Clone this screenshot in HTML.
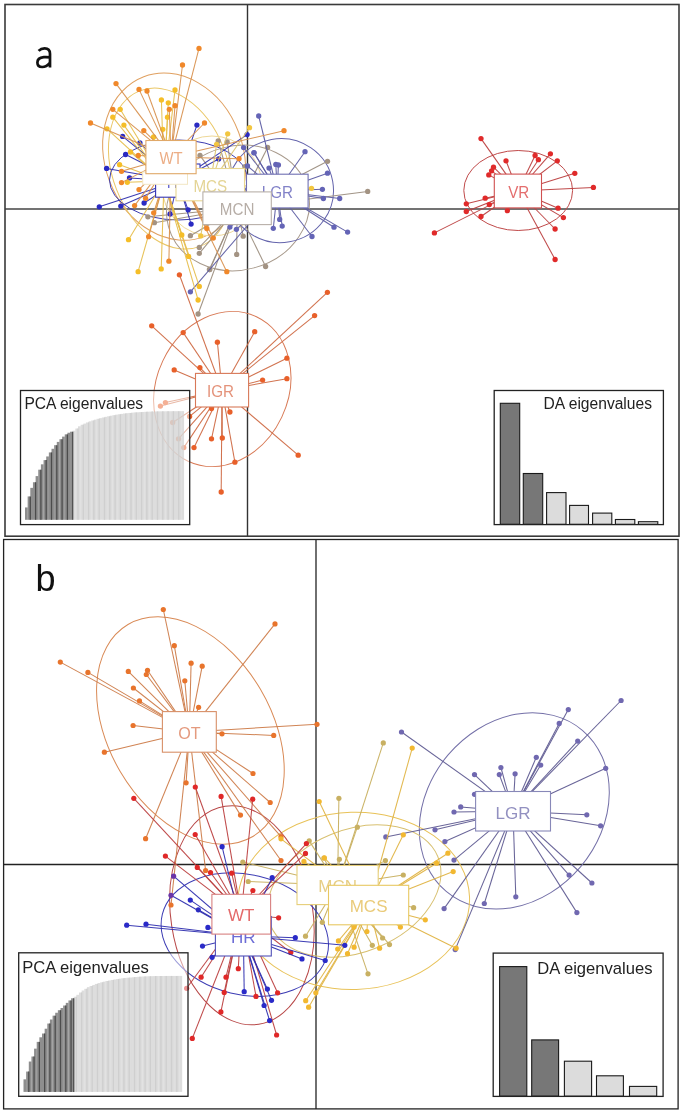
<!DOCTYPE html><html><head><meta charset="utf-8"><style>html,body{margin:0;padding:0;background:#fff;}svg{display:block;will-change:transform;filter:blur(0.3px);}text{font-family:"Liberation Sans", sans-serif;}</style></head><body>
<svg width="685" height="1114" viewBox="0 0 685 1114">
<rect width="685" height="1114" fill="#fff"/>
<g id="pa">
<line x1="247.5" y1="4.5" x2="247.5" y2="536" stroke="#333" stroke-width="1.4"/>
<line x1="5" y1="209" x2="679" y2="209" stroke="#444" stroke-width="1.7"/>
<path d="M38.6 50.9 C40.3 49.1 42.4 48.3 44.6 48.3 C48.3 48.3 50.0 50.3 50.0 53.8 L50.0 67.4 M50.0 57.4 C47.8 57.1 45.7 57.0 43.8 57.2 C39.4 57.6 37.4 59.5 37.4 62.5 C37.4 65.4 39.3 67.0 42.2 67.0 C45.3 67.0 47.9 65.2 50.0 62.6" fill="none" stroke="#111" stroke-width="2.7"/>
<ellipse cx="174.1" cy="156.7" rx="69" ry="85.5" transform="rotate(-20.8 174.1 156.7)" fill="none" stroke="#E0A060" stroke-width="1.0"/>
<ellipse cx="170" cy="168.6" rx="57.4" ry="83.4" transform="rotate(-21.2 170 168.6)" fill="none" stroke="#EAC766" stroke-width="1.0"/>
<ellipse cx="212" cy="186" rx="50" ry="50" transform="rotate(0 212 186)" fill="none" stroke="#EED898" stroke-width="1.0"/>
<ellipse cx="178.5" cy="180" rx="69" ry="40" transform="rotate(0 178.5 180)" fill="none" stroke="#3C3CB0" stroke-width="1.0"/>
<ellipse cx="238" cy="208" rx="72" ry="62" transform="rotate(-15 238 208)" fill="none" stroke="#A89A8C" stroke-width="1.0"/>
<ellipse cx="280.5" cy="190.6" rx="53" ry="52" transform="rotate(-10 280.5 190.6)" fill="none" stroke="#6464AC" stroke-width="1.0"/>
<ellipse cx="518.2" cy="190.5" rx="54.4" ry="40" transform="rotate(0 518.2 190.5)" fill="none" stroke="#C04A4A" stroke-width="1.0"/>
<ellipse cx="222.3" cy="389" rx="65.8" ry="79.9" transform="rotate(25.3 222.3 389)" fill="none" stroke="#D87A56" stroke-width="1.0"/>
<g stroke="#9C8E80" stroke-width="1.05" stroke-opacity="0.95">
<line x1="237.1" y1="208.2" x2="218.2" y2="141"/>
<line x1="237.1" y1="208.2" x2="227.2" y2="141.9"/>
<line x1="237.1" y1="208.2" x2="200" y2="155.4"/>
<line x1="237.1" y1="208.2" x2="244.9" y2="166.6"/>
<line x1="237.1" y1="208.2" x2="327.5" y2="161.3"/>
<line x1="237.1" y1="208.2" x2="367.7" y2="191.4"/>
<line x1="237.1" y1="208.2" x2="267.6" y2="147.4"/>
<line x1="237.1" y1="208.2" x2="198.1" y2="314"/>
<line x1="237.1" y1="208.2" x2="209.8" y2="269.6"/>
<line x1="237.1" y1="208.2" x2="236.7" y2="254.4"/>
<line x1="237.1" y1="208.2" x2="199.3" y2="253.3"/>
<line x1="237.1" y1="208.2" x2="199.3" y2="247.4"/>
<line x1="237.1" y1="208.2" x2="190.4" y2="235.7"/>
<line x1="237.1" y1="208.2" x2="243.2" y2="236.2"/>
<line x1="237.1" y1="208.2" x2="147.9" y2="216.8"/>
<line x1="237.1" y1="208.2" x2="154.4" y2="222.7"/>
<line x1="237.1" y1="208.2" x2="265.6" y2="266.5"/>
<line x1="237.1" y1="208.2" x2="209.4" y2="269.5"/>
</g>
<g fill="#A39383">
<circle cx="218.2" cy="141" r="2.65"/>
<circle cx="227.2" cy="141.9" r="2.65"/>
<circle cx="200" cy="155.4" r="2.65"/>
<circle cx="244.9" cy="166.6" r="2.65"/>
<circle cx="327.5" cy="161.3" r="2.65"/>
<circle cx="367.7" cy="191.4" r="2.65"/>
<circle cx="267.6" cy="147.4" r="2.65"/>
<circle cx="198.1" cy="314" r="2.65"/>
<circle cx="209.8" cy="269.6" r="2.65"/>
<circle cx="236.7" cy="254.4" r="2.65"/>
<circle cx="199.3" cy="253.3" r="2.65"/>
<circle cx="199.3" cy="247.4" r="2.65"/>
<circle cx="190.4" cy="235.7" r="2.65"/>
<circle cx="243.2" cy="236.2" r="2.65"/>
<circle cx="147.9" cy="216.8" r="2.65"/>
<circle cx="154.4" cy="222.7" r="2.65"/>
<circle cx="265.6" cy="266.5" r="2.65"/>
<circle cx="209.4" cy="269.5" r="2.65"/>
</g>
<g stroke="#5C5CA2" stroke-width="1.05" stroke-opacity="0.95">
<line x1="277.3" y1="191" x2="243.6" y2="147.6"/>
<line x1="277.3" y1="191" x2="254.1" y2="152.8"/>
<line x1="277.3" y1="191" x2="247.5" y2="166"/>
<line x1="277.3" y1="191" x2="258.7" y2="116"/>
<line x1="277.3" y1="191" x2="305" y2="151.7"/>
<line x1="277.3" y1="191" x2="327.5" y2="173.2"/>
<line x1="277.3" y1="191" x2="322.4" y2="189.3"/>
<line x1="277.3" y1="191" x2="339.7" y2="198.5"/>
<line x1="277.3" y1="191" x2="269" y2="168.1"/>
<line x1="277.3" y1="191" x2="275.8" y2="164.4"/>
<line x1="277.3" y1="191" x2="278.4" y2="165"/>
<line x1="277.3" y1="191" x2="253.9" y2="152.7"/>
<line x1="277.3" y1="191" x2="273.3" y2="228.3"/>
<line x1="277.3" y1="191" x2="282.2" y2="226.1"/>
<line x1="277.3" y1="191" x2="279.7" y2="219.4"/>
<line x1="277.3" y1="191" x2="312" y2="236.5"/>
<line x1="277.3" y1="191" x2="334" y2="227.2"/>
<line x1="277.3" y1="191" x2="347.6" y2="232.1"/>
<line x1="277.3" y1="191" x2="323.4" y2="198.5"/>
<line x1="277.3" y1="191" x2="229.9" y2="227.1"/>
<line x1="277.3" y1="191" x2="236.4" y2="229.3"/>
<line x1="277.3" y1="191" x2="190.4" y2="291.8"/>
</g>
<g fill="#6464B6">
<circle cx="243.6" cy="147.6" r="2.65"/>
<circle cx="254.1" cy="152.8" r="2.65"/>
<circle cx="247.5" cy="166" r="2.65"/>
<circle cx="258.7" cy="116" r="2.65"/>
<circle cx="305" cy="151.7" r="2.65"/>
<circle cx="327.5" cy="173.2" r="2.65"/>
<circle cx="322.4" cy="189.3" r="2.65"/>
<circle cx="339.7" cy="198.5" r="2.65"/>
<circle cx="269" cy="168.1" r="2.65"/>
<circle cx="275.8" cy="164.4" r="2.65"/>
<circle cx="278.4" cy="165" r="2.65"/>
<circle cx="253.9" cy="152.7" r="2.65"/>
<circle cx="273.3" cy="228.3" r="2.65"/>
<circle cx="282.2" cy="226.1" r="2.65"/>
<circle cx="279.7" cy="219.4" r="2.65"/>
<circle cx="312" cy="236.5" r="2.65"/>
<circle cx="334" cy="227.2" r="2.65"/>
<circle cx="347.6" cy="232.1" r="2.65"/>
<circle cx="323.4" cy="198.5" r="2.65"/>
<circle cx="229.9" cy="227.1" r="2.65"/>
<circle cx="236.4" cy="229.3" r="2.65"/>
<circle cx="190.4" cy="291.8" r="2.65"/>
</g>
<g stroke="#3232AE" stroke-width="1.05" stroke-opacity="0.95">
<line x1="178" y1="181" x2="196.9" y2="125.1"/>
<line x1="178" y1="181" x2="122.6" y2="136.4"/>
<line x1="178" y1="181" x2="139.9" y2="143"/>
<line x1="178" y1="181" x2="247.1" y2="134.6"/>
<line x1="178" y1="181" x2="125.6" y2="154.5"/>
<line x1="178" y1="181" x2="106.6" y2="168.4"/>
<line x1="178" y1="181" x2="129.5" y2="177.9"/>
<line x1="178" y1="181" x2="99.3" y2="206.8"/>
<line x1="178" y1="181" x2="120.8" y2="206.1"/>
<line x1="178" y1="181" x2="144.1" y2="203"/>
<line x1="178" y1="181" x2="218.6" y2="159"/>
<line x1="178" y1="181" x2="191.1" y2="224.1"/>
<line x1="178" y1="181" x2="188.1" y2="209.8"/>
<line x1="178" y1="181" x2="170.1" y2="214"/>
</g>
<g fill="#2A2AC2">
<circle cx="196.9" cy="125.1" r="2.65"/>
<circle cx="122.6" cy="136.4" r="2.65"/>
<circle cx="139.9" cy="143" r="2.65"/>
<circle cx="247.1" cy="134.6" r="2.65"/>
<circle cx="125.6" cy="154.5" r="2.65"/>
<circle cx="106.6" cy="168.4" r="2.65"/>
<circle cx="129.5" cy="177.9" r="2.65"/>
<circle cx="99.3" cy="206.8" r="2.65"/>
<circle cx="120.8" cy="206.1" r="2.65"/>
<circle cx="144.1" cy="203" r="2.65"/>
<circle cx="218.6" cy="159" r="2.65"/>
<circle cx="191.1" cy="224.1" r="2.65"/>
<circle cx="188.1" cy="209.8" r="2.65"/>
<circle cx="170.1" cy="214" r="2.65"/>
</g>
<g stroke="#DCC470" stroke-width="1.05" stroke-opacity="0.95">
<line x1="210.2" y1="184.6" x2="249.5" y2="127.7"/>
<line x1="210.2" y1="184.6" x2="227.7" y2="133.8"/>
<line x1="210.2" y1="184.6" x2="216.6" y2="144.3"/>
<line x1="210.2" y1="184.6" x2="311.5" y2="188.3"/>
<line x1="210.2" y1="184.6" x2="200.7" y2="235.9"/>
</g>
<g fill="#F2C640">
<circle cx="249.5" cy="127.7" r="2.65"/>
<circle cx="227.7" cy="133.8" r="2.65"/>
<circle cx="216.6" cy="144.3" r="2.65"/>
<circle cx="311.5" cy="188.3" r="2.65"/>
<circle cx="200.7" cy="235.9" r="2.65"/>
</g>
<g stroke="#E6BE4C" stroke-width="1.05" stroke-opacity="0.95">
<line x1="164" y1="181" x2="175" y2="90"/>
<line x1="164" y1="181" x2="161.4" y2="99.9"/>
<line x1="164" y1="181" x2="168.3" y2="102.8"/>
<line x1="164" y1="181" x2="120.2" y2="109.3"/>
<line x1="164" y1="181" x2="112.8" y2="117.2"/>
<line x1="164" y1="181" x2="167.5" y2="117.2"/>
<line x1="164" y1="181" x2="123.9" y2="125.1"/>
<line x1="164" y1="181" x2="107" y2="128.8"/>
<line x1="164" y1="181" x2="162.8" y2="129.3"/>
<line x1="164" y1="181" x2="130.5" y2="152"/>
<line x1="164" y1="181" x2="119.6" y2="164.7"/>
<line x1="164" y1="181" x2="127.3" y2="182.3"/>
<line x1="164" y1="181" x2="153.6" y2="137"/>
<line x1="164" y1="181" x2="128.5" y2="239.7"/>
<line x1="164" y1="181" x2="138.1" y2="271.7"/>
<line x1="164" y1="181" x2="161.2" y2="268.9"/>
<line x1="164" y1="181" x2="199.3" y2="286.4"/>
<line x1="164" y1="181" x2="198.1" y2="300"/>
<line x1="164" y1="181" x2="181.8" y2="235"/>
<line x1="164" y1="181" x2="188.6" y2="256.4"/>
</g>
<g fill="#F5BE28">
<circle cx="175" cy="90" r="2.65"/>
<circle cx="161.4" cy="99.9" r="2.65"/>
<circle cx="168.3" cy="102.8" r="2.65"/>
<circle cx="120.2" cy="109.3" r="2.65"/>
<circle cx="112.8" cy="117.2" r="2.65"/>
<circle cx="167.5" cy="117.2" r="2.65"/>
<circle cx="123.9" cy="125.1" r="2.65"/>
<circle cx="107" cy="128.8" r="2.65"/>
<circle cx="162.8" cy="129.3" r="2.65"/>
<circle cx="130.5" cy="152" r="2.65"/>
<circle cx="119.6" cy="164.7" r="2.65"/>
<circle cx="127.3" cy="182.3" r="2.65"/>
<circle cx="153.6" cy="137" r="2.65"/>
<circle cx="128.5" cy="239.7" r="2.65"/>
<circle cx="138.1" cy="271.7" r="2.65"/>
<circle cx="161.2" cy="268.9" r="2.65"/>
<circle cx="199.3" cy="286.4" r="2.65"/>
<circle cx="198.1" cy="300" r="2.65"/>
<circle cx="181.8" cy="235" r="2.65"/>
<circle cx="188.6" cy="256.4" r="2.65"/>
</g>
<g stroke="#D8914F" stroke-width="1.05" stroke-opacity="0.95">
<line x1="171" y1="157.1" x2="199" y2="48.4"/>
<line x1="171" y1="157.1" x2="182.5" y2="65"/>
<line x1="171" y1="157.1" x2="116" y2="83.6"/>
<line x1="171" y1="157.1" x2="139" y2="89.4"/>
<line x1="171" y1="157.1" x2="147" y2="91"/>
<line x1="171" y1="157.1" x2="112.8" y2="109.3"/>
<line x1="171" y1="157.1" x2="90.5" y2="123"/>
<line x1="171" y1="157.1" x2="143.8" y2="130.6"/>
<line x1="171" y1="157.1" x2="169.3" y2="109.3"/>
<line x1="171" y1="157.1" x2="175" y2="105.7"/>
<line x1="171" y1="157.1" x2="204.5" y2="123"/>
<line x1="171" y1="157.1" x2="138.3" y2="155.5"/>
<line x1="171" y1="157.1" x2="121.5" y2="171.3"/>
<line x1="171" y1="157.1" x2="121.5" y2="182.6"/>
<line x1="171" y1="157.1" x2="139" y2="189.6"/>
<line x1="171" y1="157.1" x2="145.6" y2="198.3"/>
<line x1="171" y1="157.1" x2="134.6" y2="205.6"/>
<line x1="171" y1="157.1" x2="239" y2="158.7"/>
<line x1="171" y1="157.1" x2="284" y2="130.7"/>
<line x1="171" y1="157.1" x2="148.6" y2="236.7"/>
<line x1="171" y1="157.1" x2="168.9" y2="261.2"/>
<line x1="171" y1="157.1" x2="226.8" y2="271.7"/>
<line x1="171" y1="157.1" x2="213.3" y2="238.1"/>
<line x1="171" y1="157.1" x2="153.7" y2="212.8"/>
<line x1="171" y1="157.1" x2="206.8" y2="228.5"/>
</g>
<g fill="#F0882A">
<circle cx="199" cy="48.4" r="2.65"/>
<circle cx="182.5" cy="65" r="2.65"/>
<circle cx="116" cy="83.6" r="2.65"/>
<circle cx="139" cy="89.4" r="2.65"/>
<circle cx="147" cy="91" r="2.65"/>
<circle cx="112.8" cy="109.3" r="2.65"/>
<circle cx="90.5" cy="123" r="2.65"/>
<circle cx="143.8" cy="130.6" r="2.65"/>
<circle cx="169.3" cy="109.3" r="2.65"/>
<circle cx="175" cy="105.7" r="2.65"/>
<circle cx="204.5" cy="123" r="2.65"/>
<circle cx="138.3" cy="155.5" r="2.65"/>
<circle cx="121.5" cy="171.3" r="2.65"/>
<circle cx="121.5" cy="182.6" r="2.65"/>
<circle cx="139" cy="189.6" r="2.65"/>
<circle cx="145.6" cy="198.3" r="2.65"/>
<circle cx="134.6" cy="205.6" r="2.65"/>
<circle cx="239" cy="158.7" r="2.65"/>
<circle cx="284" cy="130.7" r="2.65"/>
<circle cx="148.6" cy="236.7" r="2.65"/>
<circle cx="168.9" cy="261.2" r="2.65"/>
<circle cx="226.8" cy="271.7" r="2.65"/>
<circle cx="213.3" cy="238.1" r="2.65"/>
<circle cx="153.7" cy="212.8" r="2.65"/>
<circle cx="206.8" cy="228.5" r="2.65"/>
</g>
<g stroke="#BC4040" stroke-width="1.05" stroke-opacity="0.95">
<line x1="517.9" y1="191" x2="481.0" y2="138.6"/>
<line x1="517.9" y1="191" x2="506.0" y2="160.8"/>
<line x1="517.9" y1="191" x2="535.1" y2="155.5"/>
<line x1="517.9" y1="191" x2="538.4" y2="159.7"/>
<line x1="517.9" y1="191" x2="550.4" y2="153.8"/>
<line x1="517.9" y1="191" x2="557.3" y2="160.8"/>
<line x1="517.9" y1="191" x2="574.8" y2="173.3"/>
<line x1="517.9" y1="191" x2="593.4" y2="187.4"/>
<line x1="517.9" y1="191" x2="493.5" y2="167.2"/>
<line x1="517.9" y1="191" x2="491.6" y2="170.8"/>
<line x1="517.9" y1="191" x2="488.8" y2="174.9"/>
<line x1="517.9" y1="191" x2="485.2" y2="198.2"/>
<line x1="517.9" y1="191" x2="466.3" y2="203.8"/>
<line x1="517.9" y1="191" x2="489.3" y2="204.6"/>
<line x1="517.9" y1="191" x2="466.3" y2="211.5"/>
<line x1="517.9" y1="191" x2="481.0" y2="216.5"/>
<line x1="517.9" y1="191" x2="507.4" y2="210.7"/>
<line x1="517.9" y1="191" x2="434.4" y2="232.9"/>
<line x1="517.9" y1="191" x2="558.1" y2="208.2"/>
<line x1="517.9" y1="191" x2="563.4" y2="217.6"/>
<line x1="517.9" y1="191" x2="555.1" y2="229.0"/>
<line x1="517.9" y1="191" x2="555.1" y2="259.5"/>
</g>
<g fill="#E02A2A">
<circle cx="481.0" cy="138.6" r="2.65"/>
<circle cx="506.0" cy="160.8" r="2.65"/>
<circle cx="535.1" cy="155.5" r="2.65"/>
<circle cx="538.4" cy="159.7" r="2.65"/>
<circle cx="550.4" cy="153.8" r="2.65"/>
<circle cx="557.3" cy="160.8" r="2.65"/>
<circle cx="574.8" cy="173.3" r="2.65"/>
<circle cx="593.4" cy="187.4" r="2.65"/>
<circle cx="493.5" cy="167.2" r="2.65"/>
<circle cx="491.6" cy="170.8" r="2.65"/>
<circle cx="488.8" cy="174.9" r="2.65"/>
<circle cx="485.2" cy="198.2" r="2.65"/>
<circle cx="466.3" cy="203.8" r="2.65"/>
<circle cx="489.3" cy="204.6" r="2.65"/>
<circle cx="466.3" cy="211.5" r="2.65"/>
<circle cx="481.0" cy="216.5" r="2.65"/>
<circle cx="507.4" cy="210.7" r="2.65"/>
<circle cx="434.4" cy="232.9" r="2.65"/>
<circle cx="558.1" cy="208.2" r="2.65"/>
<circle cx="563.4" cy="217.6" r="2.65"/>
<circle cx="555.1" cy="229.0" r="2.65"/>
<circle cx="555.1" cy="259.5" r="2.65"/>
</g>
<g stroke="#CF6A44" stroke-width="1.05" stroke-opacity="0.95">
<line x1="222" y1="390.2" x2="327.4" y2="292.3"/>
<line x1="222" y1="390.2" x2="314.6" y2="315.6"/>
<line x1="222" y1="390.2" x2="151.7" y2="325.8"/>
<line x1="222" y1="390.2" x2="183.2" y2="332.6"/>
<line x1="222" y1="390.2" x2="254.7" y2="331.7"/>
<line x1="222" y1="390.2" x2="217.4" y2="342.2"/>
<line x1="222" y1="390.2" x2="199.9" y2="367.6"/>
<line x1="222" y1="390.2" x2="174.2" y2="369.9"/>
<line x1="222" y1="390.2" x2="286.9" y2="358.2"/>
<line x1="222" y1="390.2" x2="286.9" y2="378.7"/>
<line x1="222" y1="390.2" x2="262.6" y2="380.1"/>
<line x1="222" y1="390.2" x2="160.4" y2="406.1"/>
<line x1="222" y1="390.2" x2="165.4" y2="402.6"/>
<line x1="222" y1="390.2" x2="189.6" y2="416.4"/>
<line x1="222" y1="390.2" x2="172.7" y2="422.5"/>
<line x1="222" y1="390.2" x2="178.5" y2="438.8"/>
<line x1="222" y1="390.2" x2="183.8" y2="447.6"/>
<line x1="222" y1="390.2" x2="194.0" y2="447.6"/>
<line x1="222" y1="390.2" x2="211.5" y2="438.8"/>
<line x1="222" y1="390.2" x2="222.3" y2="438.0"/>
<line x1="222" y1="390.2" x2="211.5" y2="408.5"/>
<line x1="222" y1="390.2" x2="229.9" y2="412.0"/>
<line x1="222" y1="390.2" x2="234.9" y2="462.2"/>
<line x1="222" y1="390.2" x2="298.2" y2="455.2"/>
<line x1="222" y1="390.2" x2="221.2" y2="492.0"/>
<line x1="222" y1="390.2" x2="179.4" y2="274.8"/>
</g>
<g fill="#E8602A">
<circle cx="327.4" cy="292.3" r="2.65"/>
<circle cx="314.6" cy="315.6" r="2.65"/>
<circle cx="151.7" cy="325.8" r="2.65"/>
<circle cx="183.2" cy="332.6" r="2.65"/>
<circle cx="254.7" cy="331.7" r="2.65"/>
<circle cx="217.4" cy="342.2" r="2.65"/>
<circle cx="199.9" cy="367.6" r="2.65"/>
<circle cx="174.2" cy="369.9" r="2.65"/>
<circle cx="286.9" cy="358.2" r="2.65"/>
<circle cx="286.9" cy="378.7" r="2.65"/>
<circle cx="262.6" cy="380.1" r="2.65"/>
<circle cx="160.4" cy="406.1" r="2.65"/>
<circle cx="165.4" cy="402.6" r="2.65"/>
<circle cx="189.6" cy="416.4" r="2.65"/>
<circle cx="172.7" cy="422.5" r="2.65"/>
<circle cx="178.5" cy="438.8" r="2.65"/>
<circle cx="183.8" cy="447.6" r="2.65"/>
<circle cx="194.0" cy="447.6" r="2.65"/>
<circle cx="211.5" cy="438.8" r="2.65"/>
<circle cx="222.3" cy="438.0" r="2.65"/>
<circle cx="211.5" cy="408.5" r="2.65"/>
<circle cx="229.9" cy="412.0" r="2.65"/>
<circle cx="234.9" cy="462.2" r="2.65"/>
<circle cx="298.2" cy="455.2" r="2.65"/>
<circle cx="221.2" cy="492.0" r="2.65"/>
<circle cx="179.4" cy="274.8" r="2.65"/>
</g>
<rect x="155.6" y="164" width="44.400000000000006" height="33.19999999999999" fill="#fff" stroke="#3434B4" stroke-width="1.1"/><text transform="translate(177.80 187.71) scale(0.92 1)" x="0" y="0" font-size="16.5" fill="#6A6AD0" text-anchor="middle">HR</text>
<rect x="246.5" y="174.2" width="61.60000000000002" height="33.70000000000002" fill="#fff" stroke="#7070B2" stroke-width="1.1"/><text transform="translate(277.30 198.16) scale(0.92 1)" x="0" y="0" font-size="16.5" fill="#8282C8" text-anchor="middle">LGR</text>
<rect x="176" y="168.5" width="68.5" height="32.30000000000001" fill="#fff" stroke="#E8D690" stroke-width="1.1"/><text transform="translate(210.25 191.76) scale(0.92 1)" x="0" y="0" font-size="16.5" fill="#E4D494" text-anchor="middle">MCS</text>
<rect x="142.7" y="172" width="44.8" height="12.3" fill="#fff" stroke="#F2E6C4" stroke-width="1"/>
<rect x="145.9" y="140.5" width="50.19999999999999" height="33.19999999999999" fill="#fff" stroke="#E0A868" stroke-width="1.1"/><text transform="translate(171.00 164.21) scale(0.9 1)" x="0" y="0" font-size="16.5" fill="#ECAD85" text-anchor="middle">WT</text>
<rect x="202.9" y="191.9" width="68.4" height="32.69999999999999" fill="#fff" stroke="#B8B0A8" stroke-width="1.1"/><text transform="translate(237.10 215.36) scale(0.92 1)" x="0" y="0" font-size="16.5" fill="#B6ADA6" text-anchor="middle">MCN</text>
<rect x="494.3" y="174.1" width="47.19999999999999" height="33.80000000000001" fill="#fff" stroke="#D05050" stroke-width="1.1"/><text transform="translate(518.70 198.11) scale(0.92 1)" x="0" y="0" font-size="16.5" fill="#E46E6E" text-anchor="middle">VR</text>
<rect x="195.5" y="373.4" width="53.099999999999994" height="33.60000000000002" fill="#fff" stroke="#D87858" stroke-width="1.1"/><text transform="translate(220.45 397.31) scale(0.92 1)" x="0" y="0" font-size="16.5" fill="#E4927A" text-anchor="middle">IGR</text>
<rect x="20.5" y="390.5" width="169.2" height="134.10000000000002" fill="#fff" fill-opacity="0.5" stroke="none"/>
<rect x="25.00" y="507.44" width="2.70" height="12.36" fill="#848484" fill-opacity="0.92"/>
<rect x="27.65" y="496.42" width="2.70" height="23.38" fill="#848484" fill-opacity="0.92"/>
<rect x="30.30" y="487.86" width="2.70" height="31.94" fill="#848484" fill-opacity="0.92"/>
<rect x="32.95" y="482.23" width="2.70" height="37.57" fill="#848484" fill-opacity="0.92"/>
<rect x="35.60" y="476.09" width="2.70" height="43.71" fill="#848484" fill-opacity="0.92"/>
<rect x="38.25" y="469.69" width="2.70" height="50.11" fill="#848484" fill-opacity="0.92"/>
<rect x="40.90" y="464.33" width="2.70" height="55.46" fill="#848484" fill-opacity="0.92"/>
<rect x="43.55" y="460.11" width="2.70" height="59.69" fill="#848484" fill-opacity="0.92"/>
<rect x="46.20" y="456.45" width="2.70" height="63.35" fill="#848484" fill-opacity="0.92"/>
<rect x="48.85" y="452.43" width="2.70" height="67.37" fill="#848484" fill-opacity="0.92"/>
<rect x="51.50" y="448.78" width="2.70" height="71.02" fill="#848484" fill-opacity="0.92"/>
<rect x="54.15" y="445.16" width="2.70" height="74.64" fill="#848484" fill-opacity="0.92"/>
<rect x="56.80" y="441.91" width="2.70" height="77.89" fill="#848484" fill-opacity="0.92"/>
<rect x="59.45" y="439.22" width="2.70" height="80.58" fill="#848484" fill-opacity="0.92"/>
<rect x="62.10" y="436.62" width="2.70" height="83.18" fill="#848484" fill-opacity="0.92"/>
<rect x="64.75" y="434.36" width="2.70" height="85.44" fill="#848484" fill-opacity="0.92"/>
<rect x="67.40" y="432.73" width="2.70" height="87.07" fill="#848484" fill-opacity="0.92"/>
<rect x="70.05" y="431.69" width="2.70" height="88.11" fill="#848484" fill-opacity="0.92"/>
<rect x="72.70" y="430.71" width="2.70" height="89.09" fill="#D0D0D0" fill-opacity="0.72"/>
<rect x="75.35" y="428.51" width="2.70" height="91.29" fill="#D0D0D0" fill-opacity="0.72"/>
<rect x="78.00" y="426.30" width="2.70" height="93.50" fill="#D0D0D0" fill-opacity="0.72"/>
<rect x="80.65" y="424.76" width="2.70" height="95.04" fill="#D0D0D0" fill-opacity="0.72"/>
<rect x="83.30" y="423.60" width="2.70" height="96.20" fill="#D0D0D0" fill-opacity="0.72"/>
<rect x="85.95" y="422.43" width="2.70" height="97.37" fill="#D0D0D0" fill-opacity="0.72"/>
<rect x="88.60" y="421.33" width="2.70" height="98.47" fill="#D0D0D0" fill-opacity="0.72"/>
<rect x="91.25" y="420.50" width="2.70" height="99.30" fill="#D0D0D0" fill-opacity="0.72"/>
<rect x="93.90" y="419.66" width="2.70" height="100.14" fill="#D0D0D0" fill-opacity="0.72"/>
<rect x="96.55" y="418.83" width="2.70" height="100.97" fill="#D0D0D0" fill-opacity="0.72"/>
<rect x="99.20" y="418.13" width="2.70" height="101.67" fill="#D0D0D0" fill-opacity="0.72"/>
<rect x="101.85" y="417.49" width="2.70" height="102.31" fill="#D0D0D0" fill-opacity="0.72"/>
<rect x="104.50" y="416.85" width="2.70" height="102.95" fill="#D0D0D0" fill-opacity="0.72"/>
<rect x="107.15" y="416.25" width="2.70" height="103.55" fill="#D0D0D0" fill-opacity="0.72"/>
<rect x="109.80" y="415.72" width="2.70" height="104.08" fill="#D0D0D0" fill-opacity="0.72"/>
<rect x="112.45" y="415.20" width="2.70" height="104.60" fill="#D0D0D0" fill-opacity="0.72"/>
<rect x="115.10" y="414.67" width="2.70" height="105.13" fill="#D0D0D0" fill-opacity="0.72"/>
<rect x="117.75" y="414.27" width="2.70" height="105.53" fill="#D0D0D0" fill-opacity="0.72"/>
<rect x="120.40" y="413.90" width="2.70" height="105.90" fill="#D0D0D0" fill-opacity="0.72"/>
<rect x="123.05" y="413.52" width="2.70" height="106.28" fill="#D0D0D0" fill-opacity="0.72"/>
<rect x="125.70" y="413.19" width="2.70" height="106.61" fill="#D0D0D0" fill-opacity="0.72"/>
<rect x="128.35" y="412.93" width="2.70" height="106.87" fill="#D0D0D0" fill-opacity="0.72"/>
<rect x="131.00" y="412.67" width="2.70" height="107.13" fill="#D0D0D0" fill-opacity="0.72"/>
<rect x="133.65" y="412.41" width="2.70" height="107.39" fill="#D0D0D0" fill-opacity="0.72"/>
<rect x="136.30" y="412.26" width="2.70" height="107.54" fill="#D0D0D0" fill-opacity="0.72"/>
<rect x="138.95" y="412.12" width="2.70" height="107.68" fill="#D0D0D0" fill-opacity="0.72"/>
<rect x="141.60" y="411.97" width="2.70" height="107.83" fill="#D0D0D0" fill-opacity="0.72"/>
<rect x="144.25" y="411.84" width="2.70" height="107.96" fill="#D0D0D0" fill-opacity="0.72"/>
<rect x="146.90" y="411.72" width="2.70" height="108.08" fill="#D0D0D0" fill-opacity="0.72"/>
<rect x="149.55" y="411.61" width="2.70" height="108.19" fill="#D0D0D0" fill-opacity="0.72"/>
<rect x="152.20" y="411.49" width="2.70" height="108.31" fill="#D0D0D0" fill-opacity="0.72"/>
<rect x="154.85" y="411.44" width="2.70" height="108.36" fill="#D0D0D0" fill-opacity="0.72"/>
<rect x="157.50" y="411.38" width="2.70" height="108.42" fill="#D0D0D0" fill-opacity="0.72"/>
<rect x="160.15" y="411.32" width="2.70" height="108.48" fill="#D0D0D0" fill-opacity="0.72"/>
<rect x="162.80" y="411.28" width="2.70" height="108.52" fill="#D0D0D0" fill-opacity="0.72"/>
<rect x="165.45" y="411.26" width="2.70" height="108.54" fill="#D0D0D0" fill-opacity="0.72"/>
<rect x="168.10" y="411.24" width="2.70" height="108.56" fill="#D0D0D0" fill-opacity="0.72"/>
<rect x="170.75" y="411.22" width="2.70" height="108.58" fill="#D0D0D0" fill-opacity="0.72"/>
<rect x="173.40" y="411.19" width="2.70" height="108.61" fill="#D0D0D0" fill-opacity="0.72"/>
<rect x="176.05" y="411.17" width="2.70" height="108.63" fill="#D0D0D0" fill-opacity="0.72"/>
<rect x="178.70" y="411.15" width="2.70" height="108.65" fill="#D0D0D0" fill-opacity="0.72"/>
<rect x="181.35" y="411.12" width="2.70" height="108.68" fill="#D0D0D0" fill-opacity="0.72"/>
<line x1="30.30" y1="496.42" x2="30.30" y2="519.8" stroke="#444444" stroke-width="1.3" stroke-opacity="0.92"/>
<line x1="35.60" y1="482.23" x2="35.60" y2="519.8" stroke="#444444" stroke-width="1.3" stroke-opacity="0.92"/>
<line x1="40.90" y1="469.69" x2="40.90" y2="519.8" stroke="#444444" stroke-width="1.3" stroke-opacity="0.92"/>
<line x1="46.20" y1="460.11" x2="46.20" y2="519.8" stroke="#444444" stroke-width="1.3" stroke-opacity="0.92"/>
<line x1="51.50" y1="452.43" x2="51.50" y2="519.8" stroke="#444444" stroke-width="1.3" stroke-opacity="0.92"/>
<line x1="56.80" y1="445.16" x2="56.80" y2="519.8" stroke="#444444" stroke-width="1.3" stroke-opacity="0.92"/>
<line x1="62.10" y1="439.22" x2="62.10" y2="519.8" stroke="#444444" stroke-width="1.3" stroke-opacity="0.92"/>
<line x1="67.40" y1="434.36" x2="67.40" y2="519.8" stroke="#444444" stroke-width="1.3" stroke-opacity="0.92"/>
<line x1="72.70" y1="431.69" x2="72.70" y2="519.8" stroke="#444444" stroke-width="1.3" stroke-opacity="0.92"/>
<line x1="78.00" y1="428.51" x2="78.00" y2="519.8" stroke="#CDCDCD" stroke-width="1.3" stroke-opacity="0.92"/>
<line x1="83.30" y1="424.76" x2="83.30" y2="519.8" stroke="#CDCDCD" stroke-width="1.3" stroke-opacity="0.92"/>
<line x1="88.60" y1="422.43" x2="88.60" y2="519.8" stroke="#CDCDCD" stroke-width="1.3" stroke-opacity="0.92"/>
<line x1="93.90" y1="420.50" x2="93.90" y2="519.8" stroke="#CDCDCD" stroke-width="1.3" stroke-opacity="0.92"/>
<line x1="99.20" y1="418.83" x2="99.20" y2="519.8" stroke="#CDCDCD" stroke-width="1.3" stroke-opacity="0.92"/>
<line x1="104.50" y1="417.49" x2="104.50" y2="519.8" stroke="#CDCDCD" stroke-width="1.3" stroke-opacity="0.92"/>
<line x1="109.80" y1="416.25" x2="109.80" y2="519.8" stroke="#CDCDCD" stroke-width="1.3" stroke-opacity="0.92"/>
<line x1="115.10" y1="415.20" x2="115.10" y2="519.8" stroke="#CDCDCD" stroke-width="1.3" stroke-opacity="0.92"/>
<line x1="120.40" y1="414.27" x2="120.40" y2="519.8" stroke="#CDCDCD" stroke-width="1.3" stroke-opacity="0.92"/>
<line x1="125.70" y1="413.52" x2="125.70" y2="519.8" stroke="#CDCDCD" stroke-width="1.3" stroke-opacity="0.92"/>
<line x1="131.00" y1="412.93" x2="131.00" y2="519.8" stroke="#CDCDCD" stroke-width="1.3" stroke-opacity="0.92"/>
<line x1="136.30" y1="412.41" x2="136.30" y2="519.8" stroke="#CDCDCD" stroke-width="1.3" stroke-opacity="0.92"/>
<line x1="141.60" y1="412.12" x2="141.60" y2="519.8" stroke="#CDCDCD" stroke-width="1.3" stroke-opacity="0.92"/>
<line x1="146.90" y1="411.84" x2="146.90" y2="519.8" stroke="#CDCDCD" stroke-width="1.3" stroke-opacity="0.92"/>
<line x1="152.20" y1="411.61" x2="152.20" y2="519.8" stroke="#CDCDCD" stroke-width="1.3" stroke-opacity="0.92"/>
<line x1="157.50" y1="411.44" x2="157.50" y2="519.8" stroke="#CDCDCD" stroke-width="1.3" stroke-opacity="0.92"/>
<line x1="162.80" y1="411.32" x2="162.80" y2="519.8" stroke="#CDCDCD" stroke-width="1.3" stroke-opacity="0.92"/>
<line x1="168.10" y1="411.26" x2="168.10" y2="519.8" stroke="#CDCDCD" stroke-width="1.3" stroke-opacity="0.92"/>
<line x1="173.40" y1="411.22" x2="173.40" y2="519.8" stroke="#CDCDCD" stroke-width="1.3" stroke-opacity="0.92"/>
<line x1="178.70" y1="411.17" x2="178.70" y2="519.8" stroke="#CDCDCD" stroke-width="1.3" stroke-opacity="0.92"/>
<rect x="20.5" y="390.5" width="169.2" height="134.10000000000002" fill="none" stroke="#222" stroke-width="1.3"/>
<text x="24.4" y="409" font-size="15.6" fill="#222">PCA eigenvalues</text>
<rect x="494.2" y="390.5" width="169.2" height="134.10000000000002" fill="#fff" fill-opacity="0.5" stroke="none"/>
<rect x="500.3" y="403.3" width="19.400000000000034" height="120.99999999999994" fill="#777777" stroke="#1a1a1a" stroke-width="1.1"/>
<rect x="523.3" y="473.5" width="19.40000000000009" height="50.799999999999955" fill="#777777" stroke="#1a1a1a" stroke-width="1.1"/>
<rect x="546.6" y="492.6" width="19.399999999999977" height="31.699999999999932" fill="#DCDCDC" stroke="#1a1a1a" stroke-width="1.1"/>
<rect x="569.6" y="505.4" width="18.899999999999977" height="18.899999999999977" fill="#DCDCDC" stroke="#1a1a1a" stroke-width="1.1"/>
<rect x="592.6" y="513.1" width="19.199999999999932" height="11.199999999999932" fill="#DCDCDC" stroke="#1a1a1a" stroke-width="1.1"/>
<rect x="615.4" y="519.5" width="19.399999999999977" height="4.7999999999999545" fill="#DCDCDC" stroke="#1a1a1a" stroke-width="1.1"/>
<rect x="638.4" y="521.7" width="19.399999999999977" height="2.599999999999909" fill="#DCDCDC" stroke="#1a1a1a" stroke-width="1.1"/>
<rect x="494.2" y="390.5" width="169.2" height="134.10000000000002" fill="none" stroke="#222" stroke-width="1.3"/>
<text x="543.6" y="409" font-size="15.6" fill="#222">DA eigenvalues</text>
<rect x="5" y="4.5" width="674" height="531.7" fill="none" stroke="#3a3a3a" stroke-width="1.6"/>
</g>
<g id="pb">
<line x1="316" y1="539.5" x2="316" y2="1109" stroke="#222" stroke-width="1.3"/>
<line x1="3.6" y1="864.5" x2="678" y2="864.5" stroke="#222" stroke-width="1.3"/>
<text x="35.5" y="590.5" font-size="36" fill="#111">b</text>
<ellipse cx="190.4" cy="730.5" rx="81.3" ry="123" transform="rotate(-30.5 190.4 730.5)" fill="none" stroke="#D98A56" stroke-width="1.0"/>
<ellipse cx="514.3" cy="810.9" rx="105.5" ry="86.7" transform="rotate(-49.8 514.3 810.9)" fill="none" stroke="#7470A8" stroke-width="1.0"/>
<ellipse cx="353.7" cy="900.9" rx="115.9" ry="88.6" transform="rotate(-1.8 353.7 900.9)" fill="none" stroke="#E8C258" stroke-width="1.0"/>
<ellipse cx="354.2" cy="891" rx="90.4" ry="61.1" transform="rotate(-22.4 354.2 891)" fill="none" stroke="#D8C070" stroke-width="1.0"/>
<ellipse cx="241.9" cy="915.3" rx="71" ry="110.3" transform="rotate(-8.8 241.9 915.3)" fill="none" stroke="#B84848" stroke-width="1.0"/>
<ellipse cx="244.8" cy="934.6" rx="84.9" ry="60" transform="rotate(13.7 244.8 934.6)" fill="none" stroke="#3C3CB4" stroke-width="1.0"/>
<g stroke="#CD7C4A" stroke-width="1.05" stroke-opacity="0.95">
<line x1="189.3" y1="731.9" x2="163.3" y2="609.5"/>
<line x1="189.3" y1="731.9" x2="275" y2="623.9"/>
<line x1="189.3" y1="731.9" x2="60.3" y2="662.1"/>
<line x1="189.3" y1="731.9" x2="87.9" y2="672.4"/>
<line x1="189.3" y1="731.9" x2="128.3" y2="671.4"/>
<line x1="189.3" y1="731.9" x2="147.5" y2="670.3"/>
<line x1="189.3" y1="731.9" x2="146.3" y2="674.5"/>
<line x1="189.3" y1="731.9" x2="174.3" y2="645.7"/>
<line x1="189.3" y1="731.9" x2="191.1" y2="663.2"/>
<line x1="189.3" y1="731.9" x2="202.2" y2="666.2"/>
<line x1="189.3" y1="731.9" x2="184.8" y2="680.8"/>
<line x1="189.3" y1="731.9" x2="133.4" y2="688"/>
<line x1="189.3" y1="731.9" x2="139.5" y2="700.9"/>
<line x1="189.3" y1="731.9" x2="198.6" y2="707.3"/>
<line x1="189.3" y1="731.9" x2="133.1" y2="725.5"/>
<line x1="189.3" y1="731.9" x2="104.4" y2="752.2"/>
<line x1="189.3" y1="731.9" x2="317" y2="724.3"/>
<line x1="189.3" y1="731.9" x2="222" y2="733.8"/>
<line x1="189.3" y1="731.9" x2="273.7" y2="735.4"/>
<line x1="189.3" y1="731.9" x2="253" y2="773.5"/>
<line x1="189.3" y1="731.9" x2="186.1" y2="782.8"/>
<line x1="189.3" y1="731.9" x2="270.2" y2="802.5"/>
<line x1="189.3" y1="731.9" x2="240.5" y2="815.1"/>
<line x1="189.3" y1="731.9" x2="145.6" y2="838.7"/>
<line x1="189.3" y1="731.9" x2="281" y2="836.6"/>
<line x1="189.3" y1="731.9" x2="281" y2="860.5"/>
<line x1="189.3" y1="731.9" x2="205.6" y2="870.5"/>
<line x1="189.3" y1="731.9" x2="171" y2="905"/>
</g>
<g fill="#E8742C">
<circle cx="163.3" cy="609.5" r="2.6"/>
<circle cx="275" cy="623.9" r="2.6"/>
<circle cx="60.3" cy="662.1" r="2.6"/>
<circle cx="87.9" cy="672.4" r="2.6"/>
<circle cx="128.3" cy="671.4" r="2.6"/>
<circle cx="147.5" cy="670.3" r="2.6"/>
<circle cx="146.3" cy="674.5" r="2.6"/>
<circle cx="174.3" cy="645.7" r="2.6"/>
<circle cx="191.1" cy="663.2" r="2.6"/>
<circle cx="202.2" cy="666.2" r="2.6"/>
<circle cx="184.8" cy="680.8" r="2.6"/>
<circle cx="133.4" cy="688" r="2.6"/>
<circle cx="139.5" cy="700.9" r="2.6"/>
<circle cx="198.6" cy="707.3" r="2.6"/>
<circle cx="133.1" cy="725.5" r="2.6"/>
<circle cx="104.4" cy="752.2" r="2.6"/>
<circle cx="317" cy="724.3" r="2.6"/>
<circle cx="222" cy="733.8" r="2.6"/>
<circle cx="273.7" cy="735.4" r="2.6"/>
<circle cx="253" cy="773.5" r="2.6"/>
<circle cx="186.1" cy="782.8" r="2.6"/>
<circle cx="270.2" cy="802.5" r="2.6"/>
<circle cx="240.5" cy="815.1" r="2.6"/>
<circle cx="145.6" cy="838.7" r="2.6"/>
<circle cx="281" cy="836.6" r="2.6"/>
<circle cx="281" cy="860.5" r="2.6"/>
<circle cx="205.6" cy="870.5" r="2.6"/>
<circle cx="171" cy="905" r="2.6"/>
</g>
<g stroke="#605C92" stroke-width="1.05" stroke-opacity="0.95">
<line x1="513" y1="811.2" x2="621.1" y2="700.5"/>
<line x1="513" y1="811.2" x2="568.3" y2="709.6"/>
<line x1="513" y1="811.2" x2="559.2" y2="723.4"/>
<line x1="513" y1="811.2" x2="577.7" y2="741.1"/>
<line x1="513" y1="811.2" x2="401.5" y2="732"/>
<line x1="513" y1="811.2" x2="536.3" y2="757.3"/>
<line x1="513" y1="811.2" x2="540.7" y2="765.1"/>
<line x1="513" y1="811.2" x2="605.7" y2="768.3"/>
<line x1="513" y1="811.2" x2="500.9" y2="767.5"/>
<line x1="513" y1="811.2" x2="499.3" y2="774.6"/>
<line x1="513" y1="811.2" x2="515.1" y2="773.8"/>
<line x1="513" y1="811.2" x2="474.5" y2="774.6"/>
<line x1="513" y1="811.2" x2="474.5" y2="794.3"/>
<line x1="513" y1="811.2" x2="460.7" y2="806.9"/>
<line x1="513" y1="811.2" x2="454" y2="812"/>
<line x1="513" y1="811.2" x2="586.8" y2="814.8"/>
<line x1="513" y1="811.2" x2="600.6" y2="825.8"/>
<line x1="513" y1="811.2" x2="435" y2="829.8"/>
<line x1="513" y1="811.2" x2="385.8" y2="836.9"/>
<line x1="513" y1="811.2" x2="444.9" y2="841.6"/>
<line x1="513" y1="811.2" x2="454" y2="860.1"/>
<line x1="513" y1="811.2" x2="569.1" y2="875.1"/>
<line x1="513" y1="811.2" x2="591.9" y2="883"/>
<line x1="513" y1="811.2" x2="515.8" y2="896.8"/>
<line x1="513" y1="811.2" x2="484.3" y2="903.5"/>
<line x1="513" y1="811.2" x2="444.1" y2="908.6"/>
<line x1="513" y1="811.2" x2="576.9" y2="912.6"/>
<line x1="513" y1="811.2" x2="455.2" y2="949.6"/>
</g>
<g fill="#7068B0">
<circle cx="621.1" cy="700.5" r="2.6"/>
<circle cx="568.3" cy="709.6" r="2.6"/>
<circle cx="559.2" cy="723.4" r="2.6"/>
<circle cx="577.7" cy="741.1" r="2.6"/>
<circle cx="401.5" cy="732" r="2.6"/>
<circle cx="536.3" cy="757.3" r="2.6"/>
<circle cx="540.7" cy="765.1" r="2.6"/>
<circle cx="605.7" cy="768.3" r="2.6"/>
<circle cx="500.9" cy="767.5" r="2.6"/>
<circle cx="499.3" cy="774.6" r="2.6"/>
<circle cx="515.1" cy="773.8" r="2.6"/>
<circle cx="474.5" cy="774.6" r="2.6"/>
<circle cx="474.5" cy="794.3" r="2.6"/>
<circle cx="460.7" cy="806.9" r="2.6"/>
<circle cx="454" cy="812" r="2.6"/>
<circle cx="586.8" cy="814.8" r="2.6"/>
<circle cx="600.6" cy="825.8" r="2.6"/>
<circle cx="435" cy="829.8" r="2.6"/>
<circle cx="385.8" cy="836.9" r="2.6"/>
<circle cx="444.9" cy="841.6" r="2.6"/>
<circle cx="454" cy="860.1" r="2.6"/>
<circle cx="569.1" cy="875.1" r="2.6"/>
<circle cx="591.9" cy="883" r="2.6"/>
<circle cx="515.8" cy="896.8" r="2.6"/>
<circle cx="484.3" cy="903.5" r="2.6"/>
<circle cx="444.1" cy="908.6" r="2.6"/>
<circle cx="576.9" cy="912.6" r="2.6"/>
<circle cx="455.2" cy="949.6" r="2.6"/>
</g>
<g stroke="#C8B060" stroke-width="1.05" stroke-opacity="0.95">
<line x1="337.6" y1="885" x2="383.3" y2="742.9"/>
<line x1="337.6" y1="885" x2="338.9" y2="798.3"/>
<line x1="337.6" y1="885" x2="357.3" y2="827.2"/>
<line x1="337.6" y1="885" x2="339.4" y2="859.3"/>
<line x1="337.6" y1="885" x2="385.4" y2="860.6"/>
<line x1="337.6" y1="885" x2="403.3" y2="875"/>
<line x1="337.6" y1="885" x2="309.2" y2="840.9"/>
<line x1="337.6" y1="885" x2="413.6" y2="907.7"/>
<line x1="337.6" y1="885" x2="372.3" y2="945.3"/>
<line x1="337.6" y1="885" x2="389.5" y2="944.6"/>
<line x1="337.6" y1="885" x2="382.6" y2="938"/>
<line x1="337.6" y1="885" x2="368" y2="973.8"/>
<line x1="337.6" y1="885" x2="305.5" y2="936.2"/>
<line x1="337.6" y1="885" x2="322.3" y2="922.3"/>
<line x1="337.6" y1="885" x2="248.2" y2="881.5"/>
<line x1="337.6" y1="885" x2="242.8" y2="862.1"/>
<line x1="337.6" y1="885" x2="323.9" y2="858"/>
</g>
<g fill="#C8B062">
<circle cx="383.3" cy="742.9" r="2.6"/>
<circle cx="338.9" cy="798.3" r="2.6"/>
<circle cx="357.3" cy="827.2" r="2.6"/>
<circle cx="339.4" cy="859.3" r="2.6"/>
<circle cx="385.4" cy="860.6" r="2.6"/>
<circle cx="403.3" cy="875" r="2.6"/>
<circle cx="309.2" cy="840.9" r="2.6"/>
<circle cx="413.6" cy="907.7" r="2.6"/>
<circle cx="372.3" cy="945.3" r="2.6"/>
<circle cx="389.5" cy="944.6" r="2.6"/>
<circle cx="382.6" cy="938" r="2.6"/>
<circle cx="368" cy="973.8" r="2.6"/>
<circle cx="305.5" cy="936.2" r="2.6"/>
<circle cx="322.3" cy="922.3" r="2.6"/>
<circle cx="248.2" cy="881.5" r="2.6"/>
<circle cx="242.8" cy="862.1" r="2.6"/>
<circle cx="323.9" cy="858" r="2.6"/>
</g>
<g stroke="#E0B444" stroke-width="1.05" stroke-opacity="0.95">
<line x1="368.6" y1="905" x2="412.2" y2="748.1"/>
<line x1="368.6" y1="905" x2="319.2" y2="801.5"/>
<line x1="368.6" y1="905" x2="403.3" y2="834.8"/>
<line x1="368.6" y1="905" x2="324.4" y2="857.9"/>
<line x1="368.6" y1="905" x2="447.9" y2="853.2"/>
<line x1="368.6" y1="905" x2="453.2" y2="871.6"/>
<line x1="368.6" y1="905" x2="436.6" y2="863.2"/>
<line x1="368.6" y1="905" x2="303.9" y2="861.4"/>
<line x1="368.6" y1="905" x2="425.3" y2="919.8"/>
<line x1="368.6" y1="905" x2="400.4" y2="927.1"/>
<line x1="368.6" y1="905" x2="366.9" y2="931.5"/>
<line x1="368.6" y1="905" x2="354.1" y2="927.1"/>
<line x1="368.6" y1="905" x2="379.6" y2="948.2"/>
<line x1="368.6" y1="905" x2="337.7" y2="949"/>
<line x1="368.6" y1="905" x2="347.5" y2="953.7"/>
<line x1="368.6" y1="905" x2="354.1" y2="947.2"/>
<line x1="368.6" y1="905" x2="315.8" y2="992.8"/>
<line x1="368.6" y1="905" x2="281" y2="838.8"/>
<line x1="368.6" y1="905" x2="338.4" y2="940.9"/>
<line x1="368.6" y1="905" x2="305.7" y2="1000.7"/>
<line x1="368.6" y1="905" x2="308.6" y2="1007.2"/>
<line x1="368.6" y1="905" x2="456.1" y2="948.2"/>
</g>
<g fill="#F2B830">
<circle cx="412.2" cy="748.1" r="2.6"/>
<circle cx="319.2" cy="801.5" r="2.6"/>
<circle cx="403.3" cy="834.8" r="2.6"/>
<circle cx="324.4" cy="857.9" r="2.6"/>
<circle cx="447.9" cy="853.2" r="2.6"/>
<circle cx="453.2" cy="871.6" r="2.6"/>
<circle cx="436.6" cy="863.2" r="2.6"/>
<circle cx="303.9" cy="861.4" r="2.6"/>
<circle cx="425.3" cy="919.8" r="2.6"/>
<circle cx="400.4" cy="927.1" r="2.6"/>
<circle cx="366.9" cy="931.5" r="2.6"/>
<circle cx="354.1" cy="927.1" r="2.6"/>
<circle cx="379.6" cy="948.2" r="2.6"/>
<circle cx="337.7" cy="949" r="2.6"/>
<circle cx="347.5" cy="953.7" r="2.6"/>
<circle cx="354.1" cy="947.2" r="2.6"/>
<circle cx="315.8" cy="992.8" r="2.6"/>
<circle cx="281" cy="838.8" r="2.6"/>
<circle cx="338.4" cy="940.9" r="2.6"/>
<circle cx="305.7" cy="1000.7" r="2.6"/>
<circle cx="308.6" cy="1007.2" r="2.6"/>
<circle cx="456.1" cy="948.2" r="2.6"/>
</g>
<g stroke="#BC4040" stroke-width="1.05" stroke-opacity="0.95">
<line x1="241.2" y1="914.2" x2="133.8" y2="798.3"/>
<line x1="241.2" y1="914.2" x2="195.3" y2="787"/>
<line x1="241.2" y1="914.2" x2="221.1" y2="796.4"/>
<line x1="241.2" y1="914.2" x2="252.7" y2="799.2"/>
<line x1="241.2" y1="914.2" x2="195.2" y2="834.5"/>
<line x1="241.2" y1="914.2" x2="165.4" y2="856.1"/>
<line x1="241.2" y1="914.2" x2="197.3" y2="867.4"/>
<line x1="241.2" y1="914.2" x2="210.5" y2="872.5"/>
<line x1="241.2" y1="914.2" x2="231.7" y2="873.2"/>
<line x1="241.2" y1="914.2" x2="306.4" y2="843.6"/>
<line x1="241.2" y1="914.2" x2="305.5" y2="853.4"/>
<line x1="241.2" y1="914.2" x2="252.9" y2="890.5"/>
<line x1="241.2" y1="914.2" x2="278.6" y2="917.8"/>
<line x1="241.2" y1="914.2" x2="290.8" y2="952.5"/>
<line x1="241.2" y1="914.2" x2="238.3" y2="968.7"/>
<line x1="241.2" y1="914.2" x2="226" y2="977.2"/>
<line x1="241.2" y1="914.2" x2="201.1" y2="977.2"/>
<line x1="241.2" y1="914.2" x2="224.2" y2="992.4"/>
<line x1="241.2" y1="914.2" x2="256" y2="996.4"/>
<line x1="241.2" y1="914.2" x2="277.6" y2="992.8"/>
<line x1="241.2" y1="914.2" x2="220.9" y2="1011.9"/>
<line x1="241.2" y1="914.2" x2="192.3" y2="1038.4"/>
<line x1="241.2" y1="914.2" x2="276.6" y2="1035"/>
<line x1="241.2" y1="914.2" x2="186.6" y2="988.3"/>
</g>
<g fill="#E02828">
<circle cx="133.8" cy="798.3" r="2.6"/>
<circle cx="195.3" cy="787" r="2.6"/>
<circle cx="221.1" cy="796.4" r="2.6"/>
<circle cx="252.7" cy="799.2" r="2.6"/>
<circle cx="195.2" cy="834.5" r="2.6"/>
<circle cx="165.4" cy="856.1" r="2.6"/>
<circle cx="197.3" cy="867.4" r="2.6"/>
<circle cx="210.5" cy="872.5" r="2.6"/>
<circle cx="231.7" cy="873.2" r="2.6"/>
<circle cx="306.4" cy="843.6" r="2.6"/>
<circle cx="305.5" cy="853.4" r="2.6"/>
<circle cx="252.9" cy="890.5" r="2.6"/>
<circle cx="278.6" cy="917.8" r="2.6"/>
<circle cx="290.8" cy="952.5" r="2.6"/>
<circle cx="238.3" cy="968.7" r="2.6"/>
<circle cx="226" cy="977.2" r="2.6"/>
<circle cx="201.1" cy="977.2" r="2.6"/>
<circle cx="224.2" cy="992.4" r="2.6"/>
<circle cx="256" cy="996.4" r="2.6"/>
<circle cx="277.6" cy="992.8" r="2.6"/>
<circle cx="220.9" cy="1011.9" r="2.6"/>
<circle cx="192.3" cy="1038.4" r="2.6"/>
<circle cx="276.6" cy="1035" r="2.6"/>
<circle cx="186.6" cy="988.3" r="2.6"/>
</g>
<g stroke="#3030B0" stroke-width="1.05" stroke-opacity="0.95">
<line x1="243.4" y1="936" x2="126.7" y2="925.2"/>
<line x1="243.4" y1="936" x2="146" y2="924.2"/>
<line x1="243.4" y1="936" x2="190.3" y2="900.1"/>
<line x1="243.4" y1="936" x2="198.3" y2="909.8"/>
<line x1="243.4" y1="936" x2="207.9" y2="927.4"/>
<line x1="243.4" y1="936" x2="202.5" y2="946.1"/>
<line x1="243.4" y1="936" x2="272.2" y2="877.7"/>
<line x1="243.4" y1="936" x2="295.3" y2="937.7"/>
<line x1="243.4" y1="936" x2="302" y2="958.9"/>
<line x1="243.4" y1="936" x2="325.2" y2="960.5"/>
<line x1="243.4" y1="936" x2="244.2" y2="991.7"/>
<line x1="243.4" y1="936" x2="267.4" y2="989.1"/>
<line x1="243.4" y1="936" x2="271.5" y2="1000.3"/>
<line x1="243.4" y1="936" x2="264.1" y2="1005.5"/>
<line x1="243.4" y1="936" x2="269.6" y2="1020.6"/>
<line x1="243.4" y1="936" x2="212.1" y2="957.3"/>
<line x1="243.4" y1="936" x2="222.1" y2="846.7"/>
<line x1="243.4" y1="936" x2="344.8" y2="945.3"/>
</g>
<g fill="#2A2AC8">
<circle cx="126.7" cy="925.2" r="2.6"/>
<circle cx="146" cy="924.2" r="2.6"/>
<circle cx="190.3" cy="900.1" r="2.6"/>
<circle cx="198.3" cy="909.8" r="2.6"/>
<circle cx="207.9" cy="927.4" r="2.6"/>
<circle cx="202.5" cy="946.1" r="2.6"/>
<circle cx="272.2" cy="877.7" r="2.6"/>
<circle cx="295.3" cy="937.7" r="2.6"/>
<circle cx="302" cy="958.9" r="2.6"/>
<circle cx="325.2" cy="960.5" r="2.6"/>
<circle cx="244.2" cy="991.7" r="2.6"/>
<circle cx="267.4" cy="989.1" r="2.6"/>
<circle cx="271.5" cy="1000.3" r="2.6"/>
<circle cx="264.1" cy="1005.5" r="2.6"/>
<circle cx="269.6" cy="1020.6" r="2.6"/>
<circle cx="212.1" cy="957.3" r="2.6"/>
<circle cx="222.1" cy="846.7" r="2.6"/>
<circle cx="344.8" cy="945.3" r="2.6"/>
</g>
<g stroke="#3030B0" stroke-width="1.05" stroke-opacity="0.95">
<line x1="243.4" y1="936" x2="173.6" y2="876.2"/>
<line x1="243.4" y1="936" x2="171" y2="895.3"/>
</g>
<g fill="#6A34A8">
<circle cx="173.6" cy="876.2" r="2.6"/>
<circle cx="171" cy="895.3" r="2.6"/>
</g>
<rect x="162.4" y="711.6" width="53.900000000000006" height="40.60000000000002" fill="#fff" stroke="#D89068" stroke-width="1.1"/><text transform="translate(189.35 739.19) scale(0.95 1)" x="0" y="0" font-size="17" fill="#E49A7E" text-anchor="middle">OT</text>
<rect x="475.6" y="791.5" width="74.89999999999998" height="39.5" fill="#fff" stroke="#8888B8" stroke-width="1.1"/><text transform="translate(513.05 818.54) scale(1.0 1)" x="0" y="0" font-size="17" fill="#9290C0" text-anchor="middle">LGR</text>
<rect x="297" y="865.4" width="81.19999999999999" height="39.200000000000045" fill="#fff" stroke="#E6CE78" stroke-width="1.1"/><text transform="translate(337.60 892.29) scale(1.0 1)" x="0" y="0" font-size="17" fill="#E6CE86" text-anchor="middle">MCN</text>
<rect x="328.5" y="885.3" width="80.19999999999999" height="39.5" fill="#fff" stroke="#E8C862" stroke-width="1.1"/><text transform="translate(368.60 912.34) scale(1.0 1)" x="0" y="0" font-size="17" fill="#EACB7A" text-anchor="middle">MCS</text>
<rect x="215.4" y="916.5" width="55.900000000000006" height="39.5" fill="#fff" stroke="#5050B8" stroke-width="1.1"/><text transform="translate(243.35 943.10) scale(1.0 1)" x="0" y="0" font-size="17" fill="#6C6CD6" text-anchor="middle">HR</text>
<rect x="211.9" y="894.3" width="58.70000000000002" height="39.80000000000007" fill="#fff" stroke="#D88080" stroke-width="1.1"/><text transform="translate(241.25 921.49) scale(1.0 1)" x="0" y="0" font-size="17" fill="#E46A6A" text-anchor="middle">WT</text>
<rect x="18.7" y="952.8" width="169.3" height="143.5" fill="#fff" fill-opacity="0.5" stroke="none"/>
<rect x="23.50" y="1079.33" width="2.69" height="12.57" fill="#848484" fill-opacity="0.92"/>
<rect x="26.14" y="1071.56" width="2.69" height="20.34" fill="#848484" fill-opacity="0.92"/>
<rect x="28.79" y="1061.53" width="2.69" height="30.37" fill="#848484" fill-opacity="0.92"/>
<rect x="31.43" y="1056.52" width="2.69" height="35.38" fill="#848484" fill-opacity="0.92"/>
<rect x="34.07" y="1048.64" width="2.69" height="43.26" fill="#848484" fill-opacity="0.92"/>
<rect x="36.72" y="1041.88" width="2.69" height="50.02" fill="#848484" fill-opacity="0.92"/>
<rect x="39.36" y="1037.30" width="2.69" height="54.60" fill="#848484" fill-opacity="0.92"/>
<rect x="42.00" y="1033.53" width="2.69" height="58.37" fill="#848484" fill-opacity="0.92"/>
<rect x="44.65" y="1028.72" width="2.69" height="63.18" fill="#848484" fill-opacity="0.92"/>
<rect x="47.29" y="1023.55" width="2.69" height="68.35" fill="#848484" fill-opacity="0.92"/>
<rect x="49.93" y="1019.50" width="2.69" height="72.40" fill="#848484" fill-opacity="0.92"/>
<rect x="52.58" y="1015.66" width="2.69" height="76.24" fill="#848484" fill-opacity="0.92"/>
<rect x="55.22" y="1012.75" width="2.69" height="79.15" fill="#848484" fill-opacity="0.92"/>
<rect x="57.86" y="1010.20" width="2.69" height="81.70" fill="#848484" fill-opacity="0.92"/>
<rect x="60.51" y="1008.02" width="2.69" height="83.88" fill="#848484" fill-opacity="0.92"/>
<rect x="63.15" y="1005.52" width="2.69" height="86.38" fill="#848484" fill-opacity="0.92"/>
<rect x="65.79" y="1002.87" width="2.69" height="89.03" fill="#848484" fill-opacity="0.92"/>
<rect x="68.44" y="1000.43" width="2.69" height="91.47" fill="#848484" fill-opacity="0.92"/>
<rect x="71.08" y="998.28" width="2.69" height="93.62" fill="#848484" fill-opacity="0.92"/>
<rect x="73.72" y="996.75" width="2.69" height="95.15" fill="#D0D0D0" fill-opacity="0.72"/>
<rect x="76.37" y="994.81" width="2.69" height="97.09" fill="#D0D0D0" fill-opacity="0.72"/>
<rect x="79.01" y="992.49" width="2.69" height="99.41" fill="#D0D0D0" fill-opacity="0.72"/>
<rect x="81.65" y="990.49" width="2.69" height="101.41" fill="#D0D0D0" fill-opacity="0.72"/>
<rect x="84.30" y="988.83" width="2.69" height="103.07" fill="#D0D0D0" fill-opacity="0.72"/>
<rect x="86.94" y="987.17" width="2.69" height="104.73" fill="#D0D0D0" fill-opacity="0.72"/>
<rect x="89.58" y="986.02" width="2.69" height="105.88" fill="#D0D0D0" fill-opacity="0.72"/>
<rect x="92.23" y="984.97" width="2.69" height="106.93" fill="#D0D0D0" fill-opacity="0.72"/>
<rect x="94.87" y="983.92" width="2.69" height="107.98" fill="#D0D0D0" fill-opacity="0.72"/>
<rect x="97.51" y="983.04" width="2.69" height="108.86" fill="#D0D0D0" fill-opacity="0.72"/>
<rect x="100.16" y="982.35" width="2.69" height="109.55" fill="#D0D0D0" fill-opacity="0.72"/>
<rect x="102.80" y="981.65" width="2.69" height="110.25" fill="#D0D0D0" fill-opacity="0.72"/>
<rect x="105.44" y="980.99" width="2.69" height="110.91" fill="#D0D0D0" fill-opacity="0.72"/>
<rect x="108.09" y="980.48" width="2.69" height="111.42" fill="#D0D0D0" fill-opacity="0.72"/>
<rect x="110.73" y="979.97" width="2.69" height="111.93" fill="#D0D0D0" fill-opacity="0.72"/>
<rect x="113.37" y="979.46" width="2.69" height="112.44" fill="#D0D0D0" fill-opacity="0.72"/>
<rect x="116.02" y="979.05" width="2.69" height="112.85" fill="#D0D0D0" fill-opacity="0.72"/>
<rect x="118.66" y="978.66" width="2.69" height="113.24" fill="#D0D0D0" fill-opacity="0.72"/>
<rect x="121.30" y="978.27" width="2.69" height="113.63" fill="#D0D0D0" fill-opacity="0.72"/>
<rect x="123.95" y="977.96" width="2.69" height="113.94" fill="#D0D0D0" fill-opacity="0.72"/>
<rect x="126.59" y="977.72" width="2.69" height="114.18" fill="#D0D0D0" fill-opacity="0.72"/>
<rect x="129.23" y="977.48" width="2.69" height="114.42" fill="#D0D0D0" fill-opacity="0.72"/>
<rect x="131.88" y="977.24" width="2.69" height="114.66" fill="#D0D0D0" fill-opacity="0.72"/>
<rect x="134.52" y="977.03" width="2.69" height="114.87" fill="#D0D0D0" fill-opacity="0.72"/>
<rect x="137.16" y="976.82" width="2.69" height="115.08" fill="#D0D0D0" fill-opacity="0.72"/>
<rect x="139.81" y="976.61" width="2.69" height="115.29" fill="#D0D0D0" fill-opacity="0.72"/>
<rect x="142.45" y="976.49" width="2.69" height="115.41" fill="#D0D0D0" fill-opacity="0.72"/>
<rect x="145.09" y="976.36" width="2.69" height="115.54" fill="#D0D0D0" fill-opacity="0.72"/>
<rect x="147.74" y="976.24" width="2.69" height="115.66" fill="#D0D0D0" fill-opacity="0.72"/>
<rect x="150.38" y="976.16" width="2.69" height="115.74" fill="#D0D0D0" fill-opacity="0.72"/>
<rect x="153.02" y="976.10" width="2.69" height="115.80" fill="#D0D0D0" fill-opacity="0.72"/>
<rect x="155.67" y="976.04" width="2.69" height="115.86" fill="#D0D0D0" fill-opacity="0.72"/>
<rect x="158.31" y="976.00" width="2.69" height="115.90" fill="#D0D0D0" fill-opacity="0.72"/>
<rect x="160.95" y="975.99" width="2.69" height="115.91" fill="#D0D0D0" fill-opacity="0.72"/>
<rect x="163.60" y="975.97" width="2.69" height="115.93" fill="#D0D0D0" fill-opacity="0.72"/>
<rect x="166.24" y="975.96" width="2.69" height="115.94" fill="#D0D0D0" fill-opacity="0.72"/>
<rect x="168.88" y="975.95" width="2.69" height="115.95" fill="#D0D0D0" fill-opacity="0.72"/>
<rect x="171.53" y="975.94" width="2.69" height="115.96" fill="#D0D0D0" fill-opacity="0.72"/>
<rect x="174.17" y="975.93" width="2.69" height="115.97" fill="#D0D0D0" fill-opacity="0.72"/>
<rect x="176.81" y="975.92" width="2.69" height="115.98" fill="#D0D0D0" fill-opacity="0.72"/>
<rect x="179.46" y="975.91" width="2.69" height="115.99" fill="#D0D0D0" fill-opacity="0.72"/>
<line x1="28.79" y1="1071.56" x2="28.79" y2="1091.9" stroke="#444444" stroke-width="1.3" stroke-opacity="0.92"/>
<line x1="34.07" y1="1056.52" x2="34.07" y2="1091.9" stroke="#444444" stroke-width="1.3" stroke-opacity="0.92"/>
<line x1="39.36" y1="1041.88" x2="39.36" y2="1091.9" stroke="#444444" stroke-width="1.3" stroke-opacity="0.92"/>
<line x1="44.65" y1="1033.53" x2="44.65" y2="1091.9" stroke="#444444" stroke-width="1.3" stroke-opacity="0.92"/>
<line x1="49.93" y1="1023.55" x2="49.93" y2="1091.9" stroke="#444444" stroke-width="1.3" stroke-opacity="0.92"/>
<line x1="55.22" y1="1015.66" x2="55.22" y2="1091.9" stroke="#444444" stroke-width="1.3" stroke-opacity="0.92"/>
<line x1="60.51" y1="1010.20" x2="60.51" y2="1091.9" stroke="#444444" stroke-width="1.3" stroke-opacity="0.92"/>
<line x1="65.79" y1="1005.52" x2="65.79" y2="1091.9" stroke="#444444" stroke-width="1.3" stroke-opacity="0.92"/>
<line x1="71.08" y1="1000.43" x2="71.08" y2="1091.9" stroke="#444444" stroke-width="1.3" stroke-opacity="0.92"/>
<line x1="73.72" y1="998.28" x2="73.72" y2="1091.9" stroke="#444444" stroke-width="1.3" stroke-opacity="0.92"/>
<line x1="76.37" y1="996.75" x2="76.37" y2="1091.9" stroke="#CDCDCD" stroke-width="1.3" stroke-opacity="0.92"/>
<line x1="81.65" y1="992.49" x2="81.65" y2="1091.9" stroke="#CDCDCD" stroke-width="1.3" stroke-opacity="0.92"/>
<line x1="86.94" y1="988.83" x2="86.94" y2="1091.9" stroke="#CDCDCD" stroke-width="1.3" stroke-opacity="0.92"/>
<line x1="92.23" y1="986.02" x2="92.23" y2="1091.9" stroke="#CDCDCD" stroke-width="1.3" stroke-opacity="0.92"/>
<line x1="97.51" y1="983.92" x2="97.51" y2="1091.9" stroke="#CDCDCD" stroke-width="1.3" stroke-opacity="0.92"/>
<line x1="102.80" y1="982.35" x2="102.80" y2="1091.9" stroke="#CDCDCD" stroke-width="1.3" stroke-opacity="0.92"/>
<line x1="108.09" y1="980.99" x2="108.09" y2="1091.9" stroke="#CDCDCD" stroke-width="1.3" stroke-opacity="0.92"/>
<line x1="113.37" y1="979.97" x2="113.37" y2="1091.9" stroke="#CDCDCD" stroke-width="1.3" stroke-opacity="0.92"/>
<line x1="118.66" y1="979.05" x2="118.66" y2="1091.9" stroke="#CDCDCD" stroke-width="1.3" stroke-opacity="0.92"/>
<line x1="123.95" y1="978.27" x2="123.95" y2="1091.9" stroke="#CDCDCD" stroke-width="1.3" stroke-opacity="0.92"/>
<line x1="129.23" y1="977.72" x2="129.23" y2="1091.9" stroke="#CDCDCD" stroke-width="1.3" stroke-opacity="0.92"/>
<line x1="134.52" y1="977.24" x2="134.52" y2="1091.9" stroke="#CDCDCD" stroke-width="1.3" stroke-opacity="0.92"/>
<line x1="139.81" y1="976.82" x2="139.81" y2="1091.9" stroke="#CDCDCD" stroke-width="1.3" stroke-opacity="0.92"/>
<line x1="145.09" y1="976.49" x2="145.09" y2="1091.9" stroke="#CDCDCD" stroke-width="1.3" stroke-opacity="0.92"/>
<line x1="150.38" y1="976.24" x2="150.38" y2="1091.9" stroke="#CDCDCD" stroke-width="1.3" stroke-opacity="0.92"/>
<line x1="155.67" y1="976.10" x2="155.67" y2="1091.9" stroke="#CDCDCD" stroke-width="1.3" stroke-opacity="0.92"/>
<line x1="160.95" y1="976.00" x2="160.95" y2="1091.9" stroke="#CDCDCD" stroke-width="1.3" stroke-opacity="0.92"/>
<line x1="166.24" y1="975.97" x2="166.24" y2="1091.9" stroke="#CDCDCD" stroke-width="1.3" stroke-opacity="0.92"/>
<line x1="171.53" y1="975.95" x2="171.53" y2="1091.9" stroke="#CDCDCD" stroke-width="1.3" stroke-opacity="0.92"/>
<line x1="176.81" y1="975.93" x2="176.81" y2="1091.9" stroke="#CDCDCD" stroke-width="1.3" stroke-opacity="0.92"/>
<rect x="18.7" y="952.8" width="169.3" height="143.5" fill="none" stroke="#222" stroke-width="1.3"/>
<text x="22.3" y="973.3" font-size="16.6" fill="#222">PCA eigenvalues</text>
<rect x="493.2" y="953.1" width="169.90000000000003" height="143.30000000000007" fill="#fff" fill-opacity="0.5" stroke="none"/>
<rect x="499.6" y="966.6" width="27.199999999999932" height="129.60000000000002" fill="#777777" stroke="#1a1a1a" stroke-width="1.1"/>
<rect x="531.7" y="1039.9" width="26.899999999999977" height="56.299999999999955" fill="#777777" stroke="#1a1a1a" stroke-width="1.1"/>
<rect x="564.4" y="1061.2" width="27.200000000000045" height="35.0" fill="#DCDCDC" stroke="#1a1a1a" stroke-width="1.1"/>
<rect x="596.5" y="1075.8" width="26.899999999999977" height="20.40000000000009" fill="#DCDCDC" stroke="#1a1a1a" stroke-width="1.1"/>
<rect x="629.5" y="1086.4" width="27.200000000000045" height="9.799999999999955" fill="#DCDCDC" stroke="#1a1a1a" stroke-width="1.1"/>
<rect x="493.2" y="953.1" width="169.90000000000003" height="143.30000000000007" fill="none" stroke="#222" stroke-width="1.3"/>
<text x="537.2" y="973.6" font-size="16.6" fill="#222">DA eigenvalues</text>
<rect x="3.6" y="539.5" width="674.5" height="569.4" fill="none" stroke="#222" stroke-width="1.3"/>
</g>
</svg></body></html>
